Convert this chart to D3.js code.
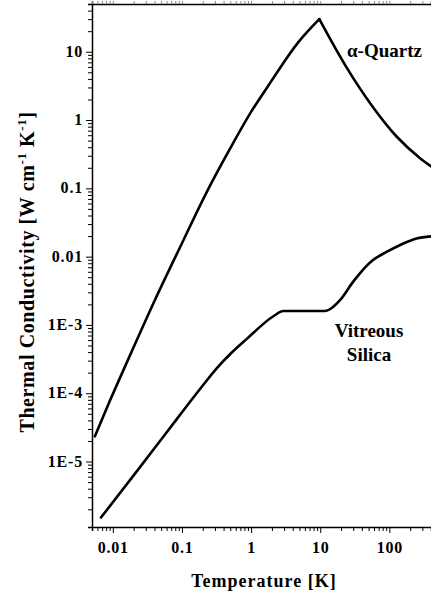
<!DOCTYPE html>
<html>
<head>
<meta charset="utf-8">
<script src="https://cdn.jsdelivr.net/npm/d3@7"></script>
<style>
  body { margin: 0; background: #fff; }
  svg { display: block; }
  text { font-family: "Liberation Serif", "Times New Roman", serif; font-weight: bold; fill: #000; }
</style>
</head>
<body>
<svg></svg>
<script>
const width = 431, height = 596;
const svg = d3.select("svg").attr("width", width).attr("height", height);

// Data (T in K, conductivity in W cm^-1 K^-1)
// alpha-quartz: rising branch up to the peak, then falling branch
const quartzT = [0.0055, 0.0091, 0.0186, 0.0405, 0.105, 0.216, 0.496, 0.96, 1.78, 2.62, 4.8, 9.7, 24, 58, 127, 275, 400];
const quartzK = [2.34e-5, 7.8e-5, 4.0e-4, 2.3e-3, 0.0174, 0.079, 0.38, 1.23, 3.2, 5.8, 13.7, 30, 5.9, 1.54, 0.574, 0.279, 0.21];
const quartzPeak = 11; // index of the peak point

const silicaT = [0.0066, 0.0208, 0.063, 0.171, 0.318, 0.5, 0.86, 2.1, 2.92, 11.7, 15, 19.3, 30, 37.5, 58, 91, 141, 247, 400];
const silicaK = [1.47e-6, 6.6e-6, 2.85e-5, 1.06e-4, 2.32e-4, 3.75e-4, 6.2e-4, 1.34e-3, 1.6e-3, 1.6e-3, 1.8e-3, 2.3e-3, 4.3e-3, 5.7e-3, 8.9e-3, 0.0117, 0.0147, 0.0184, 0.0198];

const xTicks = [0.01, 0.1, 1, 10, 100];
const xTickLabels = ["0.01", "0.1", "1", "10", "100"];
const yTicks = [1e-5, 1e-4, 1e-3, 0.01, 0.1, 1, 10];
const yTickLabels = ["1E-5", "1E-4", "1E-3", "0.01", "0.1", "1", "10"];

// Plot box
const plotLeft = 92, plotRight = 431, plotTop = 4, plotBottom = 527;

const x = d3.scaleLog().domain([0.005, 400]).range([plotLeft, plotRight]);
const y = d3.scaleLog().domain([1.1e-6, 50]).range([plotBottom, plotTop]);

// minor ticks 1..9 per decade
function minorTicks(domain) {
    let out = [];
    for (let e = -7; e <= 3; e++) {
        for (let m = 1; m <= 9; m++) {
            const v = +(m * Math.pow(10, e)).toPrecision(6);
            if (v >= domain[0] && v <= domain[1]) out.push(v);
        }
    }
    return out;
}
const isMajor = (d, list) => list.some(t => Math.abs(Math.log10(d) - Math.log10(t)) < 1e-6);

// Bottom axis
const xAxis = d3.axisBottom(x).tickValues(minorTicks(x.domain()))
    .tickSize(4).tickFormat("");
const gx = svg.append("g").attr("transform", `translate(0,${plotBottom})`).call(xAxis);
gx.select(".domain").attr("stroke-width", 1.5);
gx.selectAll(".tick line")
    .attr("y2", d => isMajor(d, xTicks) ? 6 : 4)
    .attr("stroke-width", 1);

svg.append("g").selectAll("text")
    .data(xTicks)
    .enter().append("text")
    .attr("x", d => x(d) + 0.5)
    .attr("y", 553)
    .attr("text-anchor", "middle")
    .attr("font-size", "16px")
    .attr("letter-spacing", "0.8px")
    .text((d, i) => xTickLabels[i]);

// Top border with small ticks
const gt = svg.append("g").attr("transform", `translate(0,${plotTop})`)
    .call(d3.axisTop(x).tickValues(minorTicks(x.domain())).tickSize(3).tickFormat(""));
gt.select(".domain").attr("stroke-width", 1.5);
gt.selectAll(".tick line").attr("stroke", "#888");

// Left axis
const yAxis = d3.axisLeft(y).tickValues(minorTicks(y.domain()))
    .tickSize(4).tickFormat("");
const gy = svg.append("g").attr("transform", `translate(${plotLeft},0)`).call(yAxis);
gy.select(".domain").attr("stroke-width", 1.5);
gy.selectAll(".tick line")
    .attr("x2", d => isMajor(d, yTicks) ? -6 : -4)
    .attr("stroke-width", 1);

svg.append("g").selectAll("text")
    .data(yTicks)
    .enter().append("text")
    .attr("x", 83)
    .attr("y", d => y(d) + 5)
    .attr("text-anchor", "end")
    .attr("font-size", "16px")
    .attr("letter-spacing", "0.8px")
    .text((d, i) => yTickLabels[i]);

// Curves
const line = d3.line().x(d => x(d[0])).y(d => y(d[1])).curve(d3.curveMonotoneX);
const quartz = quartzT.map((t, i) => [t, quartzK[i]]);
const silica = silicaT.map((t, i) => [t, silicaK[i]]);

// two branches so the peak stays sharp
[quartz.slice(0, quartzPeak + 1), quartz.slice(quartzPeak)].forEach(part => {
    svg.append("path")
        .attr("d", line(part))
        .attr("fill", "none").attr("stroke", "#000").attr("stroke-width", 2.6)
        .attr("stroke-linecap", "round");
});

svg.append("path")
    .attr("d", line(silica))
    .attr("fill", "none").attr("stroke", "#000").attr("stroke-width", 2.6);

// Curve labels
svg.append("text")
    .attr("x", 347).attr("y", 57)
    .attr("font-size", "19px")
    .text("\u03b1-Quartz");

svg.append("text")
    .attr("x", 369).attr("y", 337)
    .attr("text-anchor", "middle")
    .attr("font-size", "19px")
    .text("Vitreous");

svg.append("text")
    .attr("x", 369).attr("y", 361)
    .attr("text-anchor", "middle")
    .attr("font-size", "19px")
    .text("Silica");

// Axis titles
svg.append("text")
    .attr("x", 264).attr("y", 587)
    .attr("text-anchor", "middle")
    .attr("font-size", "18px")
    .attr("letter-spacing", "1px")
    .text("Temperature [K]");

const yt = svg.append("text")
    .attr("transform", "translate(34,272) rotate(-90)")
    .attr("text-anchor", "middle")
    .attr("font-size", "20px")
    .attr("letter-spacing", "0.6px");
yt.append("tspan").text("Thermal Conductivity [W cm");
yt.append("tspan").attr("dy", -8).attr("font-size", "13px").text("-1");
yt.append("tspan").attr("dy", 8).text(" K");
yt.append("tspan").attr("dy", -8).attr("font-size", "13px").text("-1");
yt.append("tspan").attr("dy", 8).text("]");
</script>
</body>
</html>
